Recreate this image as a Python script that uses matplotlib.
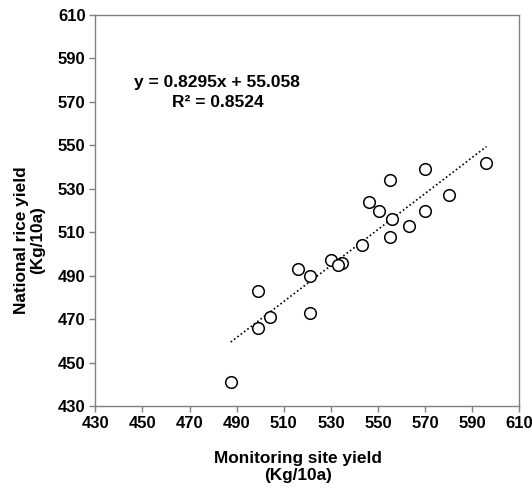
import matplotlib
matplotlib.use("Agg")
import matplotlib.pyplot as plt
import numpy as np

plt.rcParams['font.family'] = ['Liberation Sans', 'DejaVu Sans']

monitoring_yield = [596, 570, 555, 580, 546, 550.5, 570, 556, 563, 555, 543,
                    530, 534.5, 533, 516, 521, 499, 504, 521, 499, 487.5]
national_yield = [542, 539, 534, 527, 524, 520, 520, 516, 513, 508, 504,
                  497, 496, 495, 493, 490, 483, 471, 473, 466, 441]
slope = 0.8295
intercept = 55.058
r2 = 0.8524
ticks = list(range(430, 611, 20))

fig = plt.figure(figsize=(5.32, 4.90), dpi=100)
ax = fig.add_axes([0.179, 0.1714, 0.7975, 0.798])

ax.scatter(monitoring_yield, national_yield, s=70, facecolors='white',
           edgecolors='black', linewidths=1.1, zorder=3)

xl = np.array([min(monitoring_yield), max(monitoring_yield)])
ax.plot(xl, slope * xl + intercept, color='black', linestyle=(0, (1, 1.5)),
        linewidth=1.2, zorder=2)

ax.set_xlim(430, 610)
ax.set_ylim(430, 610)
ax.set_xticks(ticks)
ax.set_yticks(ticks)
ax.tick_params(direction='out', length=4, width=1, color='#808080',
               labelsize=12, pad=3)
for lab in ax.get_xticklabels() + ax.get_yticklabels():
    lab.set_fontweight('bold')
for sp in ax.spines.values():
    sp.set_color('#808080')
    sp.set_linewidth(1)

ax.set_xlabel('Monitoring site yield\n(Kg/10a)', fontsize=12.4, fontweight='bold',
              linespacing=1.18)
ax.xaxis.set_label_coords(0.478, -0.115)
ax.set_ylabel('National rice yield\n(Kg/10a)', fontsize=12.4, fontweight='bold',
              linespacing=1.15)
ax.yaxis.set_label_coords(-0.117, 0.425)

ax.text(481.8, 577.0, f'y = {slope}x + {intercept}', ha='center', va='baseline',
        fontsize=12.5, fontweight='bold')
ax.text(481.8, 567.8, f'R² = {r2}', ha='center', va='baseline',
        fontsize=12.5, fontweight='bold')

fig.savefig('out.png', dpi=100)
